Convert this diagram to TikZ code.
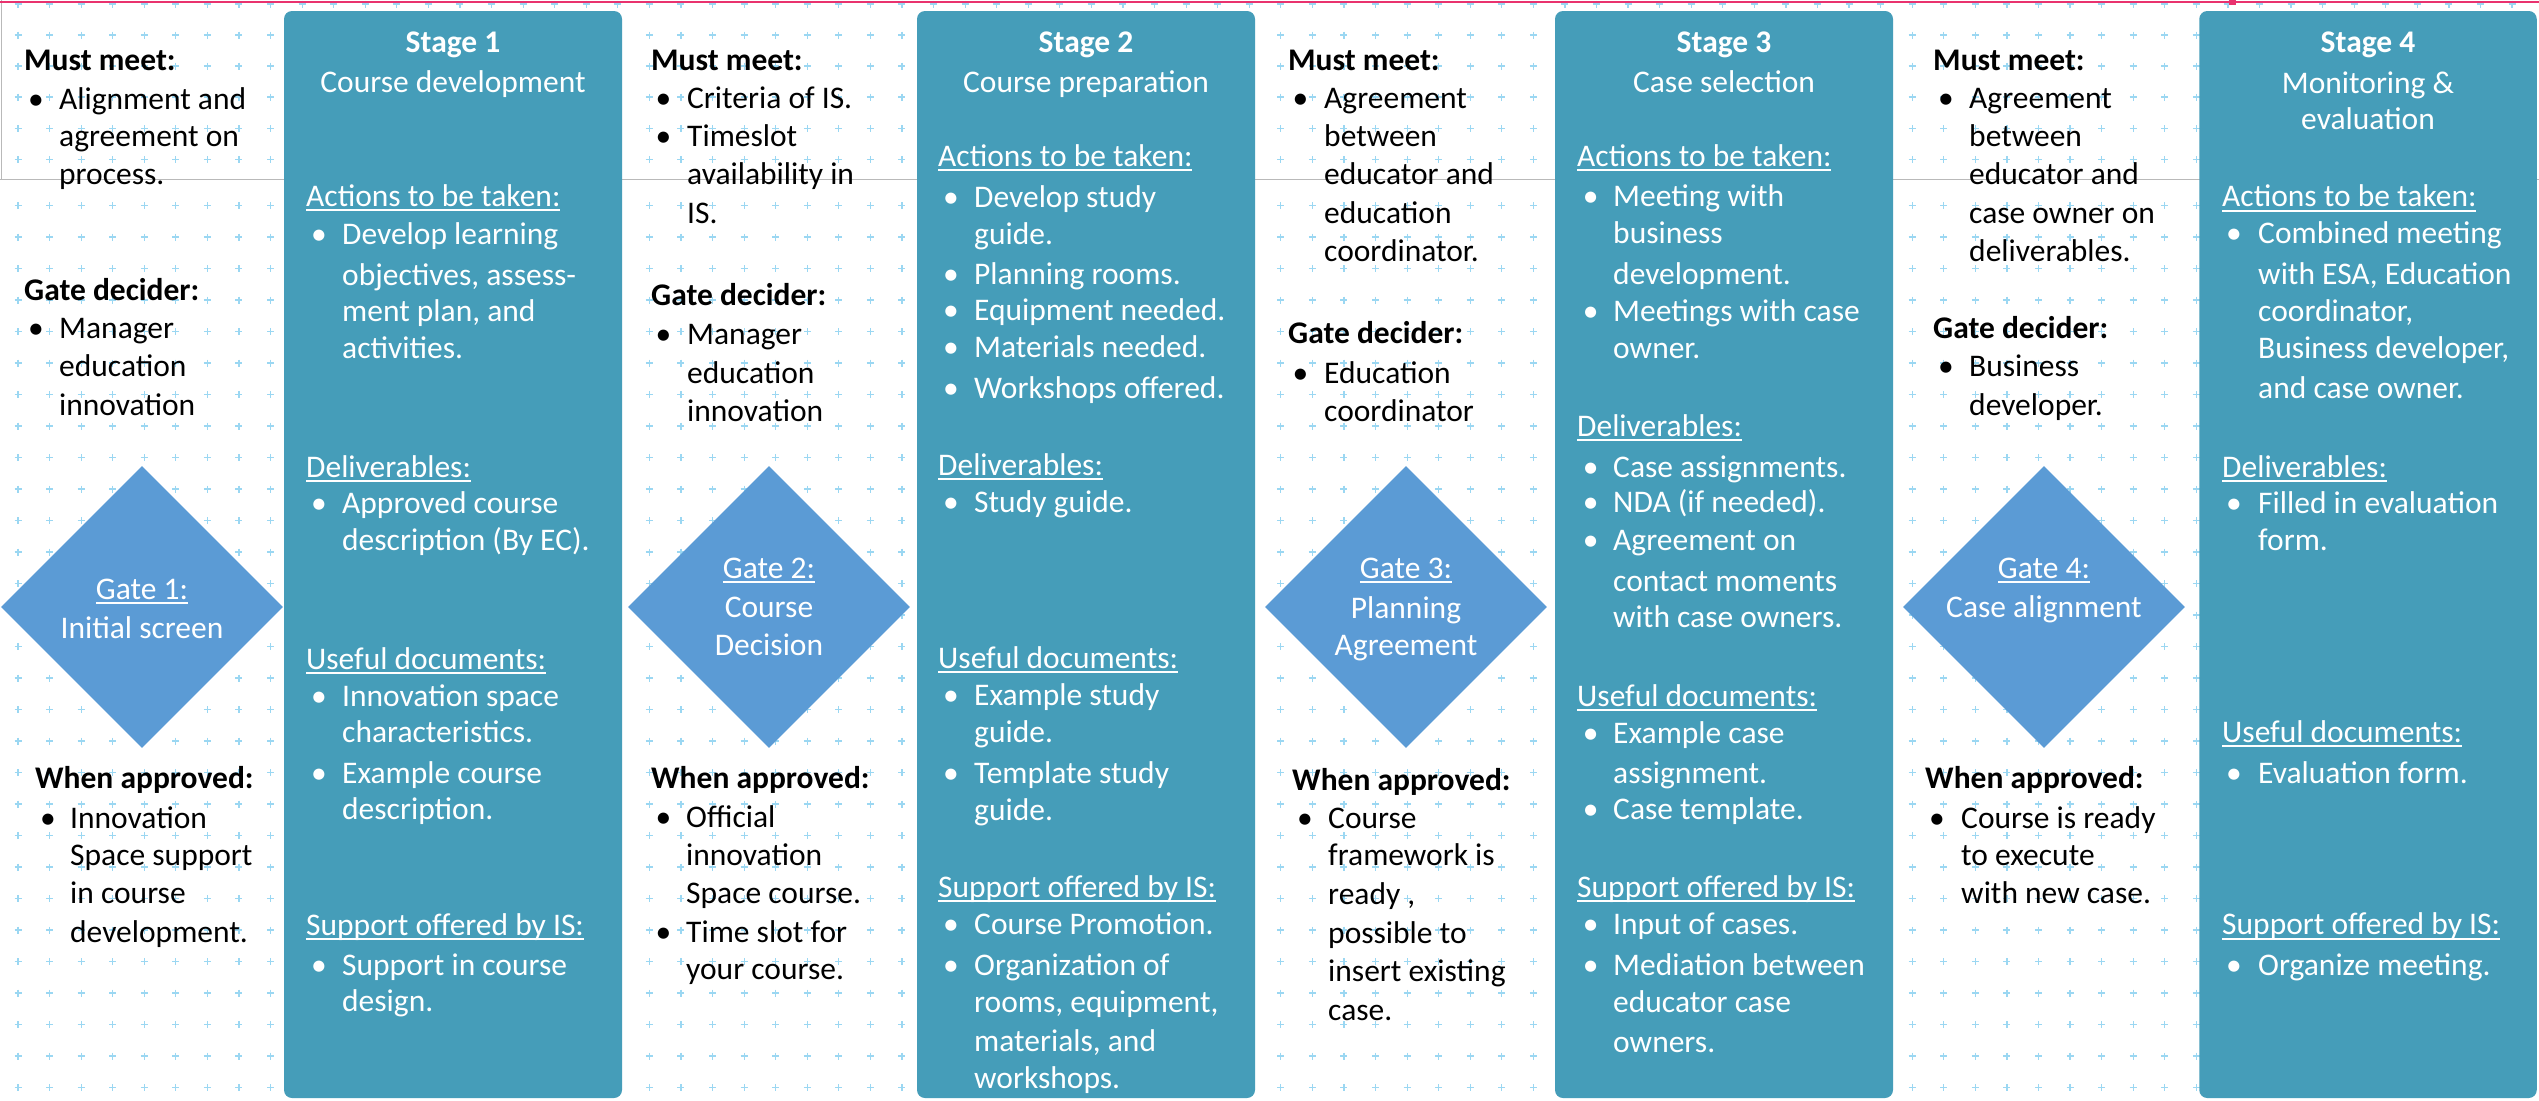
\documentclass[tikz,border=0pt]{standalone}
\usepackage{fontspec}
\setmainfont{Carlito}
\usetikzlibrary{shapes.geometric}
\definecolor{stagecol}{RGB}{69,157,185}
\definecolor{gatecol}{RGB}{91,155,213}
\definecolor{pluscol}{RGB}{155,215,242}
\definecolor{edgepink}{RGB}{233,50,110}
\definecolor{edgegray}{RGB}{185,185,185}
\newsavebox\ulbox
\newcommand\undl[1]{\sbox\ulbox{#1}\rlap{\rule[-5pt]{\wd\ulbox}{1.8pt}}\usebox\ulbox}
\tikzset{
  stagebox/.style={fill=stagecol,rounded corners=8pt,minimum width=338pt,minimum height=1087pt,inner sep=0pt},
  gate/.style={diamond,fill=gatecol,minimum width=282pt,minimum height=282pt,inner sep=0pt},
  txt/.style={anchor=base west,inner sep=0pt,font=\fontsize{31.5}{37.5}\selectfont},
  hd/.style={txt,font=\fontsize{31.5}{37.5}\selectfont\bfseries},
  wtxt/.style={txt,text=white},
  ttl/.style={anchor=base,inner sep=0pt,text=white,font=\fontsize{31.5}{37.5}\selectfont},
  ttlb/.style={ttl,font=\fontsize{31.5}{37.5}\selectfont\bfseries},
  pluss/.style={pluscol,line width=1.2pt},
}
\begin{document}
\begin{tikzpicture}[x=1pt,y=-1pt]
\useasboundingbox (0,0) rectangle (2539,1100);
\fill[white] (0,0) rectangle (2539,1100);
% background grid of crosses
\foreach \c [evaluate=\c as \x using 18+31.57*\c] in {0,...,79} {
  \foreach \y in {4,35,66,97,128.5,159.5}
    \draw[pluss] (\x-3.5,\y) -- ++(7,0) (\x,\y-3.5) -- ++(0,7);
  \foreach \r [evaluate=\r as \y using 205.5+31.5*\r] in {0,...,28}
    \draw[pluss] (\x-3.5,\y) -- ++(7,0) (\x,\y-3.5) -- ++(0,7);
}
\draw[edgegray,line width=1.2pt] (0,179.3) -- (2539,179.3);
\draw[edgegray,line width=1.5pt] (1.5,0) -- (1.5,179.3);
\draw[edgepink,line width=1.5pt] (0,2) -- (2539,2);
\fill[edgepink] (2229,0) rectangle (2236,4.5);

% stage boxes
\node[stagebox] (st1) at (453,554.5) {};
\node[stagebox] (st2) at (1086,554.5) {};
\node[stagebox] (st3) at (1724,554.5) {};
\node[stagebox,minimum width=337.5pt] (st4) at (2368,554.5) {};

% gates
\node[gate] (g1) at (142,607) {};
\node[ttl] (g1a) at (142,599) {\undl{Gate 1:}};
\node[ttl] (g1b) at (142,638) {Initial screen};
\node[gate] (g2) at (769,607) {};
\node[ttl] (g2a) at (769,578) {\undl{Gate 2:}};
\node[ttl] (g2b) at (769,617) {Course};
\node[ttl] (g2c) at (769,655) {Decision};
\node[gate] (g3) at (1406,607) {};
\node[ttl] (g3a) at (1406,578) {\undl{Gate 3:}};
\node[ttl] (g3b) at (1406,618) {Planning};
\node[ttl] (g3c) at (1406,655) {Agreement};
\node[gate] (g4) at (2044,607) {};
\node[ttl] (g4a) at (2044,578) {\undl{Gate 4:}};
\node[ttl] (g4b) at (2044,617) {Case alignment};

% column before gate 1
\node[hd] (mm1) at (24,70) {Must meet:};
\node[hd] (gd1) at (24,300) {Gate decider:};
\node[hd] (wa1) at (35,788) {When approved:};
\foreach \x/\y/\t [count=\i] in {59/109/Alignment and,59/146.5/agreement on,59/184/process.,
  59/338/Manager,59/376/education,59/415/innovation,
  70/828/Innovation,70/865/Space support,70/903/in course,70/942/development.}
  \node[txt] (c1l\i) at (\x,\y) {\t};
\foreach \x/\y [count=\i] in {28/109,28/338,40/828}
  \node[txt] (c1b\i) at (\x,\y) {\textbullet};

% stage 1
\node[ttlb] (st1t) at (453,52) {Stage 1};
\node[ttl] (st1s) at (453,92) {Course development};
\foreach \y/\t [count=\i] in {206/Actions to be taken:,477/Deliverables:,669/Useful documents:,935/Support offered by IS:}
  \node[wtxt] (st1h\i) at (306,\y) {\undl{\t}};
\foreach \y/\t [count=\i] in {244/Develop learning,285/{objectives, assess-},321.5/{ment plan, and},358/activities.,
  513/Approved course,550/description (By EC).,
  706/Innovation space,742/characteristics.,783/Example course,819/description.,
  975/Support in course,1011.5/design.}
  \node[wtxt] (st1l\i) at (342,\y) {\t};
\foreach \y [count=\i] in {244,513,706,783,975}
  \node[wtxt] (st1b\i) at (311,\y) {\textbullet};

% column before gate 2
\node[hd] (mm2) at (651,70) {Must meet:};
\node[hd] (gd2) at (651,305) {Gate decider:};
\node[hd] (wa2) at (651,788) {When approved:};
\foreach \x/\y/\t [count=\i] in {687/108/Criteria of IS.,687/146/Timeslot,687/184/availability in,687/223/IS.,
  687/344/Manager,687/383/education,687/421.5/innovation,
  686/827/Official,686/865/innovation,686/903/Space course.,686/942/Time slot for,686/979/your course.}
  \node[txt] (c2l\i) at (\x,\y) {\t};
\foreach \y [count=\i] in {108,146,344,827,942}
  \node[txt] (c2b\i) at (655.5,\y) {\textbullet};

% stage 2
\node[ttlb] (st2t) at (1086,52) {Stage 2};
\node[ttl] (st2s) at (1086,92) {Course preparation};
\foreach \y/\t [count=\i] in {166/Actions to be taken:,475/Deliverables:,668/Useful documents:,897/Support offered by IS:}
  \node[wtxt] (st2h\i) at (938,\y) {\undl{\t}};
\foreach \y/\t [count=\i] in {207/Develop study,244/guide.,284/Planning rooms.,320/Equipment needed.,357/Materials needed.,398/Workshops offered.,
  512.6/Study guide.,
  705/Example study,742/guide.,783/Template study,820/guide.,
  934/Course Promotion.,975/Organization of,1012.6/{rooms, equipment,},1051/{materials, and},1088/workshops.}
  \node[wtxt] (st2l\i) at (974,\y) {\t};
\foreach \y [count=\i] in {207,284,320,357,398,512.6,705,783,934,975}
  \node[wtxt] (st2b\i) at (943,\y) {\textbullet};

% column before gate 3
\node[hd] (mm3) at (1288,70) {Must meet:};
\node[hd] (gd3) at (1288,343) {Gate decider:};
\node[hd] (wa3) at (1292,790) {When approved:};
\foreach \x/\y/\t [count=\i] in {1324/108/Agreement,1324/146/between,1324/184/educator and,1324/223/education,1324/261/coordinator.,
  1324/383/Education,1324/421.5/coordinator,
  1328/828/Course,1328/865/framework is,1328/904/{ready ,},1328/943.6/possible to,1328/981/insert existing,1328/1020/case.}
  \node[txt] (c3l\i) at (\x,\y) {\t};
\foreach \x/\y [count=\i] in {1292.5/108,1292.5/383,1297/828}
  \node[txt] (c3b\i) at (\x,\y) {\textbullet};

% stage 3
\node[ttlb] (st3t) at (1724,52) {Stage 3};
\node[ttl] (st3s) at (1724,92) {Case selection};
\foreach \y/\t [count=\i] in {166/Actions to be taken:,436/Deliverables:,706/Useful documents:,897/Support offered by IS:}
  \node[wtxt] (st3h\i) at (1577,\y) {\undl{\t}};
\foreach \y/\t [count=\i] in {206.5/Meeting with,243.6/business,284/development.,321.5/Meetings with case,358/owner.,
  477/Case assignments.,512.6/NDA (if needed).,550/Agreement on,591/contact moments,627/with case owners.,
  743.6/Example case,783/assignment.,819/Case template.,
  934.7/Input of cases.,975/Mediation between,1012.6/educator case,1052.6/owners.}
  \node[wtxt] (st3l\i) at (1613,\y) {\t};
\foreach \y [count=\i] in {206.5,321.5,477,512.6,550,743.6,819,934.7,975}
  \node[wtxt] (st3b\i) at (1582.6,\y) {\textbullet};

% column before gate 4
\node[hd] (mm4) at (1933,70) {Must meet:};
\node[hd] (gd4) at (1933,338) {Gate decider:};
\node[hd] (wa4) at (1925,788) {When approved:};
\foreach \x/\y/\t [count=\i] in {1969/108/Agreement,1969/146/between,1969/184/educator and,1969/223/case owner on,1969/261/deliverables.,
  1969/376/Business,1969/415/developer.,
  1961/828/Course is ready,1961/865/to execute,1961/903/with new case.}
  \node[txt] (c4l\i) at (\x,\y) {\t};
\foreach \x/\y [count=\i] in {1938/108,1938/376,1929/828}
  \node[txt] (c4b\i) at (\x,\y) {\textbullet};

% stage 4
\node[ttlb] (st4t) at (2368,52) {Stage 4};
\node[ttl] (st4s) at (2368,93) {Monitoring \&};
\node[ttl] (st4u) at (2368,129.7) {evaluation};
\foreach \y/\t [count=\i] in {206.5/Actions to be taken:,477/Deliverables:,742/Useful documents:,934.7/Support offered by IS:}
  \node[wtxt] (st4h\i) at (2222,\y) {\undl{\t}};
\foreach \y/\t [count=\i] in {243.6/Combined meeting,284.7/{with ESA, Education},321.5/{coordinator,},358/{Business developer,},398/and case owner.,
  513/Filled in evaluation,550/form.,
  783/Evaluation form.,
  975/Organize meeting.}
  \node[wtxt] (st4l\i) at (2258,\y) {\t};
\foreach \y [count=\i] in {243.6,513,783,975}
  \node[wtxt] (st4b\i) at (2226,\y) {\textbullet};
\end{tikzpicture}
\end{document}
